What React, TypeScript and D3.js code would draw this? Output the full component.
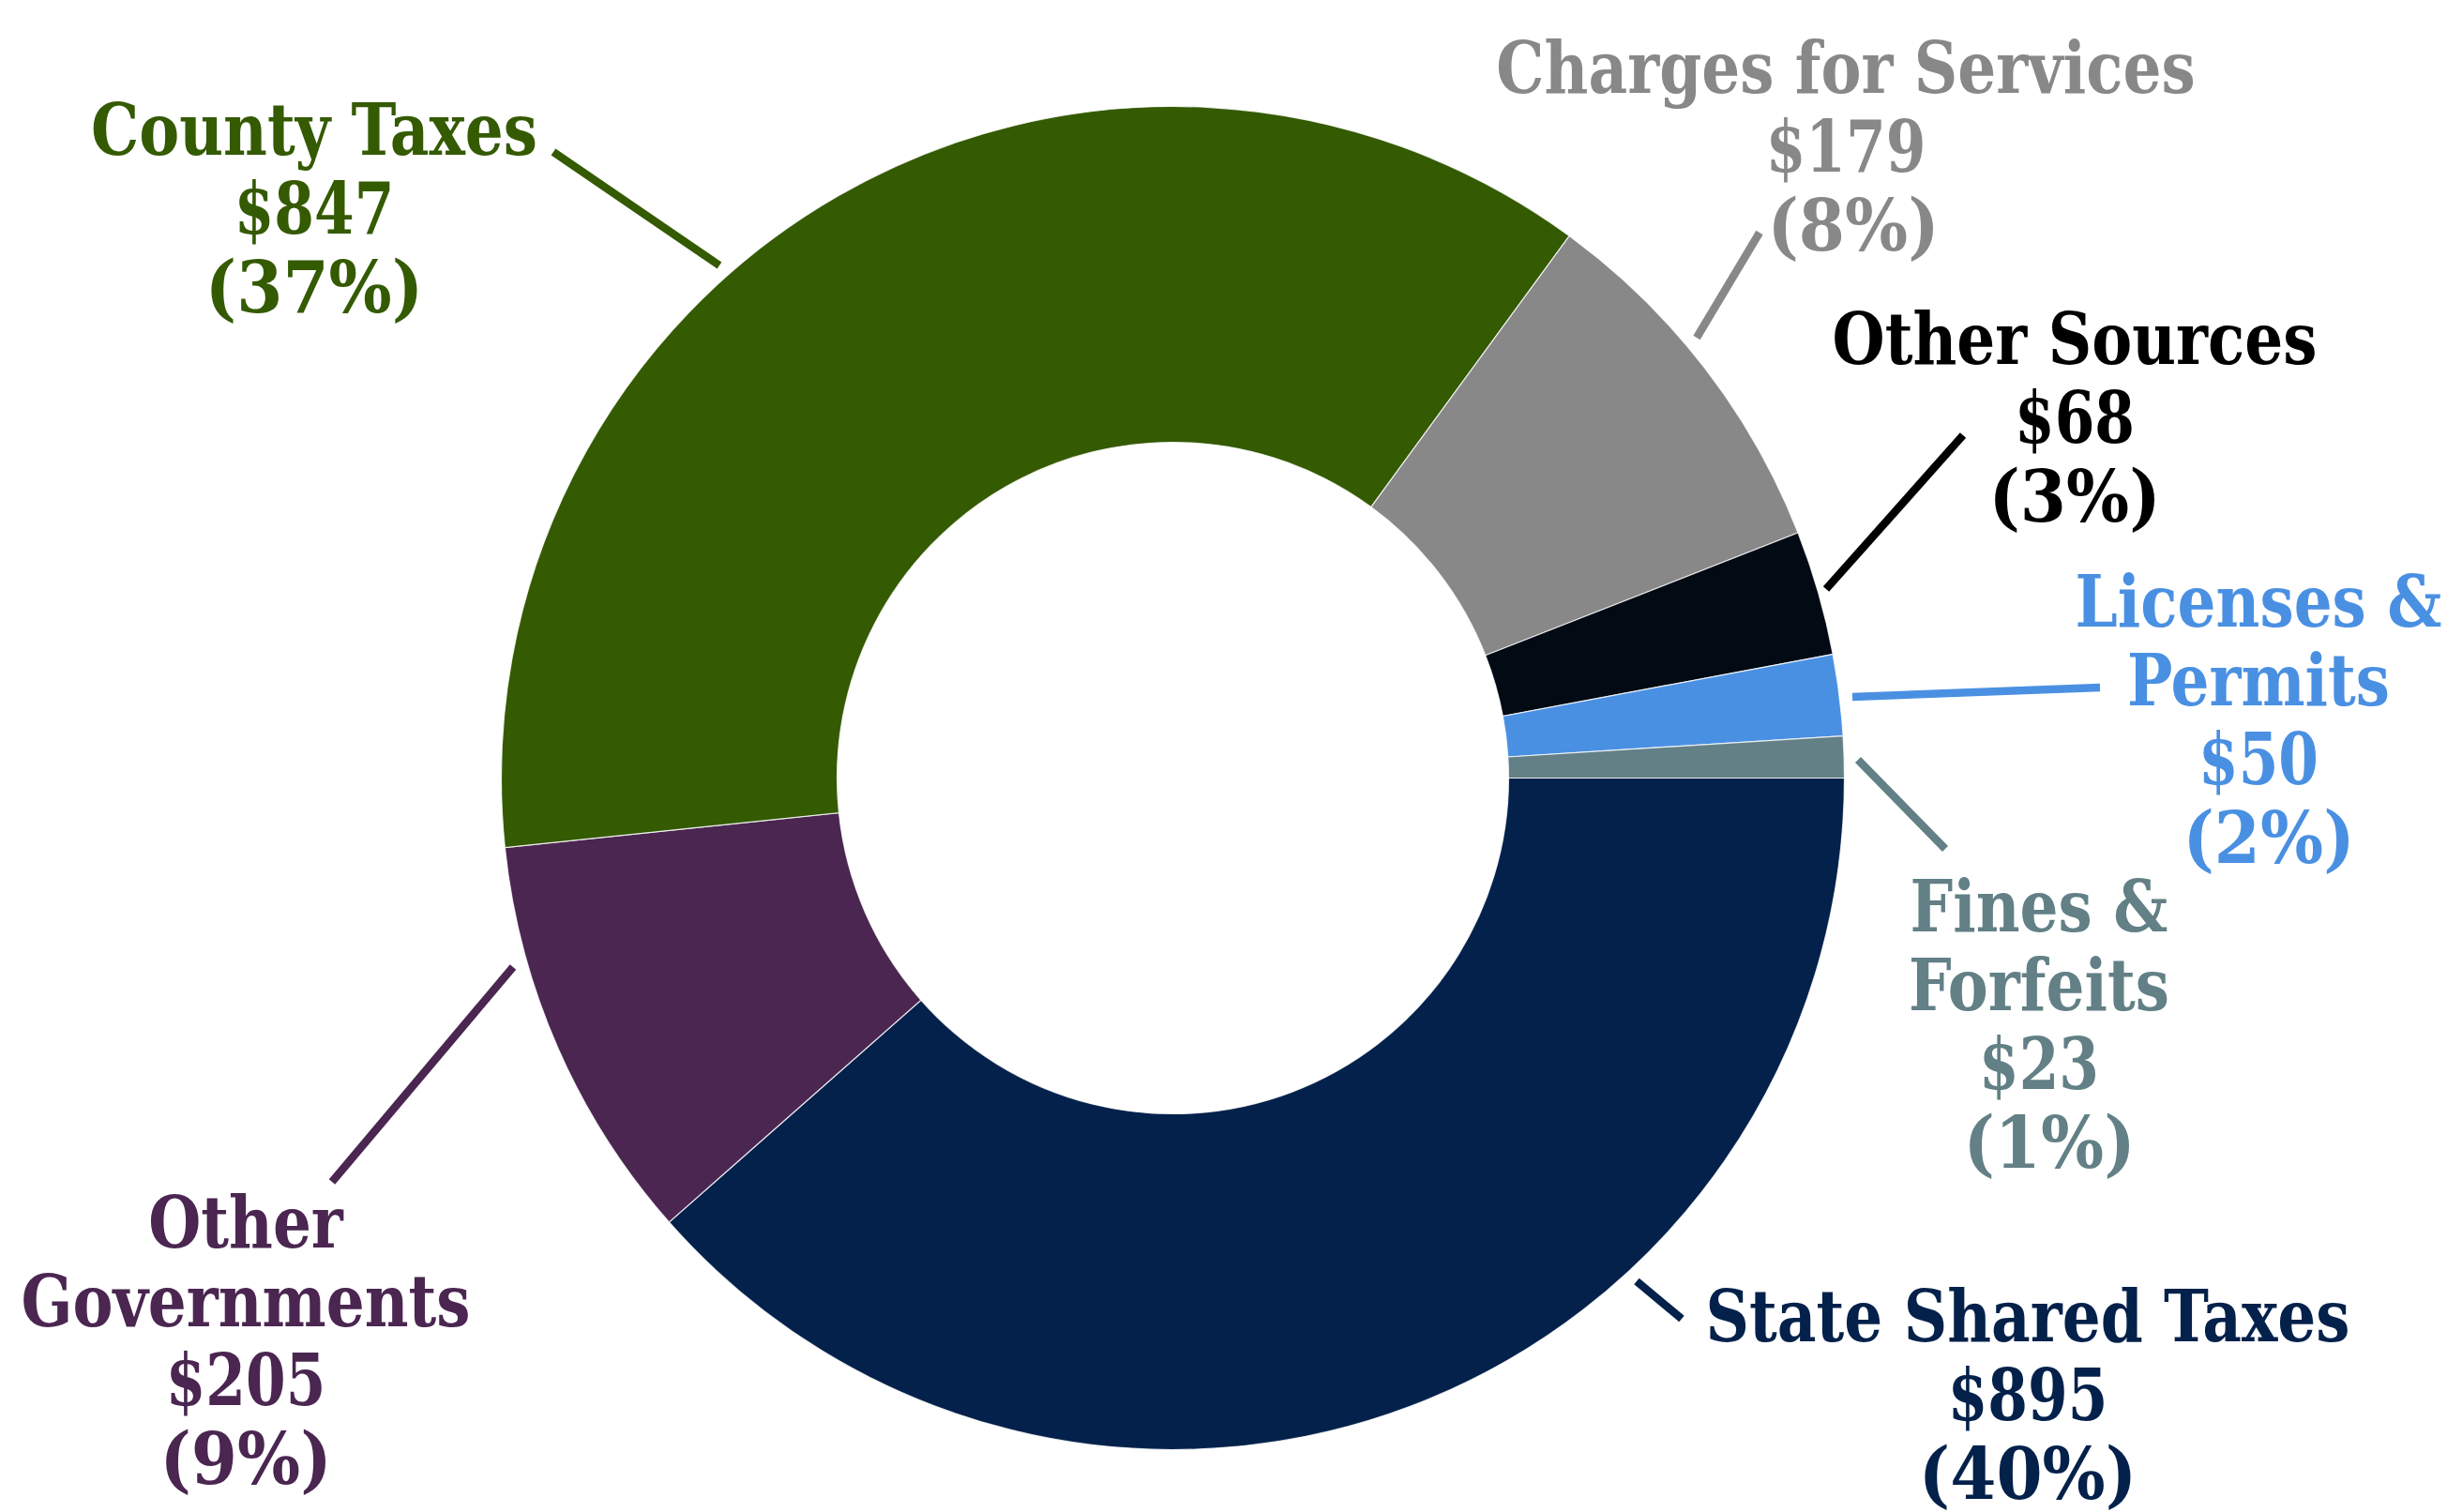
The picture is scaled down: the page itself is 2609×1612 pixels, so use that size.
import React from "react";
import * as d3 from "d3";

// ---- data ----
const categories = [
  "State Shared Taxes",
  "Other Governments",
  "County Taxes",
  "Charges for Services",
  "Other Sources",
  "Licenses & Permits",
  "Fines & Forfeits",
];
const amounts = [895, 205, 847, 179, 68, 50, 23];
const pctLabels = ["40%", "9%", "37%", "8%", "3%", "2%", "1%"];
// slice sizes as drawn in the picture (percent of the ring)
const sliceShares = [38.5, 9.85, 36.7, 9.0, 3.0, 1.95, 1.0];
const labelLines = [
  ["State Shared Taxes"],
  ["Other", "Governments"],
  ["County Taxes"],
  ["Charges for Services"],
  ["Other Sources"],
  ["Licenses &", "Permits"],
  ["Fines &", "Forfeits"],
];
const sliceColors = ["#03214A", "#4A2651", "#345A02", "#888888", "#020A14", "#4A90E2", "#628086"];
const textColors = ["#03214A", "#4A2651", "#345A02", "#888888", "#000000", "#4A90E2", "#628086"];

// ---- layout ----
const W = 2609;
const H = 1612;
const CX = 1250.5;
const CY = 829.5;
const R_OUT = 716;
const R_IN = 358;
const FONT_SIZE = 77;
const LINE_H = 84;
const NAME_SX = 0.93;
const AMOUNT_SX = 0.885;
const PCT_SX = 1.02;
const labelPos = [
  { x: 2162, y: 1430, pctDx: 0 },
  { x: 262, y: 1330, pctDx: 0 },
  { x: 335, y: 165, pctDx: 0 },
  { x: 1968, y: 99, pctDx: 8 },
  { x: 2212, y: 388, pctDx: 0 },
  { x: 2408, y: 668, pctDx: 11 },
  { x: 2174, y: 993, pctDx: 11 },
];
const leaderLines = [
  [1745, 1366, 1793, 1406],
  [547, 1031, 354, 1260],
  [767, 283, 590, 162],
  [1809, 360, 1876, 248],
  [1947, 628, 2093, 464],
  [1975, 743, 2239, 733],
  [1981, 810, 2074, 905],
];
const leaderColors = ["#03214A", "#4A2651", "#345A02", "#888888", "#000000", "#4A90E2", "#628086"];

export default function App() {
  const pie = d3
    .pie<number>()
    .sort(null)
    .value((d) => d)
    .startAngle(Math.PI / 2)
    .endAngle(Math.PI / 2 + 2 * Math.PI);
  const arcs = pie(sliceShares);
  const arc = d3.arc<d3.PieArcDatum<number>>().innerRadius(R_IN).outerRadius(R_OUT);

  return (
    <svg
      width={W}
      height={H}
      viewBox={`0 0 ${W} ${H}`}
      style={{ position: "absolute", left: 0, top: 0, background: "#ffffff" }}
    >
      <rect x={0} y={0} width={W} height={H} fill="#ffffff" />
      <g transform={`translate(${CX},${CY})`}>
        {arcs.map((a, i) => (
          <path
            key={categories[i]}
            d={arc(a) || ""}
            fill={sliceColors[i]}
            stroke="#ffffff"
            strokeWidth={1.2}
            strokeOpacity={0.8}
          />
        ))}
      </g>
      {leaderLines.map((l, i) => (
        <line
          key={"l" + i}
          x1={l[0]}
          y1={l[1]}
          x2={l[2]}
          y2={l[3]}
          stroke={leaderColors[i]}
          strokeWidth={8.5}
          strokeLinecap="butt"
        />
      ))}
      {categories.map((c, i) => {
        const names = labelLines[i];
        const lines = [...names, "$" + d3.format(",")(amounts[i]), "(" + pctLabels[i] + ")"];
        const p = labelPos[i];
        return (
          <g key={"t" + i} fill={textColors[i]}>
            {lines.map((t, j) => {
              const isPct = j === lines.length - 1;
              const isAmt = j === lines.length - 2;
              const sx = isPct ? PCT_SX : isAmt ? AMOUNT_SX : NAME_SX;
              return (
                <text
                  key={j}
                  transform={`translate(${p.x + (isPct ? p.pctDx : 0)},${p.y + j * LINE_H}) scale(${sx},1)`}
                  textAnchor="middle"
                  fontFamily="'DejaVu Serif Condensed', 'DejaVu Serif', serif"
                  fontStretch="condensed"
                  fontWeight="bold"
                  fontSize={FONT_SIZE}
                >
                  {t}
                </text>
              );
            })}
          </g>
        );
      })}
    </svg>
  );
}
